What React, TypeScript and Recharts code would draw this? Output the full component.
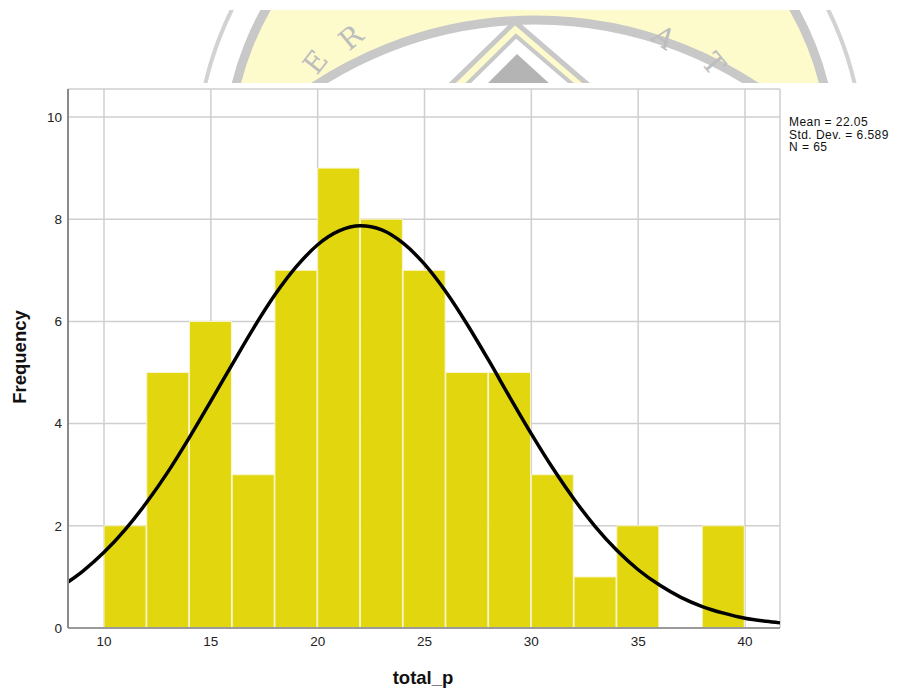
import { Bar, CartesianGrid, ComposedChart, Line, XAxis, YAxis } from "recharts";

// histogram bins (width 2)
const binMids = [11, 13, 15, 17, 19, 21, 23, 25, 27, 29, 31, 33, 35, 37, 39];
const counts = [2, 5, 6, 3, 7, 9, 8, 7, 5, 5, 3, 1, 2, 0, 2];

// normal curve
const curveX = [
  8.315, 9, 10, 11, 12, 13, 14, 15, 16, 17, 18, 19, 20, 21, 22, 23, 24, 25, 26,
  27, 28, 29, 30, 31, 32, 33, 34, 35, 36, 37, 38, 39, 40, 41, 41.638,
];
const curveY = [
  0.9, 1.11, 1.48, 1.93, 2.46, 3.06, 3.73, 4.44, 5.16, 5.87, 6.52, 7.07, 7.5,
  7.77, 7.87, 7.79, 7.53, 7.12, 6.58, 5.94, 5.24, 4.51, 3.8, 3.13, 2.52, 1.98,
  1.52, 1.14, 0.84, 0.6, 0.42, 0.29, 0.19, 0.13, 0.1,
];

const xTicks = [10, 15, 20, 25, 30, 35, 40];
const yTicks = [0, 2, 4, 6, 8, 10];
const stats = ["Mean = 22.05", "Std. Dev. = 6.589", "N = 65"];

const bins = binMids.map((x, i) => ({ x, count: counts[i] }));
const curve = curveX.map((x, i) => ({ x, y: curveY[i] }));

const X_DOMAIN: [number, number] = [8.315, 41.638];
const FONT = "'Liberation Sans', Arial, sans-serif";

// faint logo stamp above the plot (scanned page background)
function Watermark() {
  const grey = "#c8c8c8";
  const letters = [
    { ch: "E", x: 323, y: 68, r: -52 },
    { ch: "R", x: 357, y: 45, r: -40 },
    { ch: "A", x: 658, y: 45, r: 36 },
    { ch: "T", x: 706, y: 70, r: 50 },
  ];
  return (
    <svg
      width={898}
      height={90}
      style={{ position: "absolute", left: 0, top: 0 }}
    >
      <defs>
        <clipPath id="wm">
          <rect x={0} y={10} width={898} height={73} />
        </clipPath>
      </defs>
      <g clipPath="url(#wm)">
        <circle cx={530} cy={158} r={333} fill="none" stroke="#d2d2d2" strokeWidth={4} />
        <circle cx={530} cy={158} r={303} fill="#fdfacb" stroke={grey} strokeWidth={9} />
        <circle cx={535} cy={420} r={400} fill="#fff" stroke={grey} strokeWidth={9} />
        <polyline points="440,95 515,22 600,95" fill="#fdfacb" stroke={grey} strokeWidth={5} />
        <polyline points="456,95 516,36 585,95" fill="#fff" stroke={grey} strokeWidth={4} />
        <polygon points="476,95 517,54 562,95" fill="#b4b4b4" />
        {letters.map((l) => (
          <text
            key={l.ch}
            x={l.x}
            y={l.y}
            fontSize={28}
            fontFamily="'DejaVu Serif', 'Liberation Serif', serif"
            fill="#bdbdbd"
            textAnchor="middle"
            transform={`rotate(${l.r} ${l.x} ${l.y})`}
          >
            {l.ch}
          </text>
        ))}
      </g>
    </svg>
  );
}

export default function App() {
  return (
    <div
      style={{
        position: "relative",
        width: 898,
        height: 697,
        margin: -8,
        background: "#fff",
        fontFamily: FONT,
      }}
    >
      <Watermark />
      <div style={{ position: "absolute", left: 0, top: 0 }}>
        <ComposedChart
          width={898}
          height={697}
          data={bins}
          margin={{ top: 89, right: 118, bottom: 39, left: 0 }}
        >
          <CartesianGrid stroke="#cfcfcf" strokeWidth={1.5} />
          <XAxis
            dataKey="x"
            type="number"
            domain={X_DOMAIN}
            ticks={xTicks}
            allowDataOverflow
            tickLine={false}
            axisLine={{ stroke: "#9a9a9a", strokeWidth: 2 }}
            tick={{ fill: "#222", fontSize: 13.5, fontFamily: FONT }}
            height={30}
          />
          {/* curve gets its own (hidden) x axis so the bar width isn't squeezed */}
          <XAxis
            xAxisId="curve"
            dataKey="x"
            type="number"
            domain={X_DOMAIN}
            allowDataOverflow
            hide
          />
          <YAxis
            type="number"
            domain={[0, 10.548]}
            ticks={yTicks}
            allowDataOverflow
            tickLine={false}
            tickMargin={0}
            axisLine={{ stroke: "#8a8a8a", strokeWidth: 2 }}
            tick={{ fill: "#222", fontSize: 13.5, fontFamily: FONT }}
            width={68}
          />
          <Bar
            dataKey="count"
            fill="#e2d70f"
            stroke="#faf6cf"
            strokeWidth={1}
            barSize={42}
            isAnimationActive={false}
          />
          <Line
            xAxisId="curve"
            data={curve}
            dataKey="y"
            type="monotone"
            stroke="#000"
            strokeWidth={3.5}
            dot={false}
            activeDot={false}
            isAnimationActive={false}
          />
        </ComposedChart>
      </div>
      <svg
        width={898}
        height={697}
        style={{ position: "absolute", left: 0, top: 0, pointerEvents: "none" }}
      >
        {stats.map((s, i) => (
          <text
            key={s}
            x={789}
            y={126 + i * 12.6}
            fontSize={12}
            letterSpacing={0.45}
            fontFamily={FONT}
            fill="#111"
          >
            {s}
          </text>
        ))}
        <text
          x={26}
          y={357}
          fontSize={18.5}
          fontWeight="bold"
          fontFamily={FONT}
          textAnchor="middle"
          transform="rotate(-90 26 357)"
          fill="#111"
        >
          Frequency
        </text>
        <text
          x={423}
          y={684}
          fontSize={18.5}
          fontWeight="bold"
          fontFamily={FONT}
          textAnchor="middle"
          fill="#111"
        >
          total_p
        </text>
      </svg>
    </div>
  );
}
